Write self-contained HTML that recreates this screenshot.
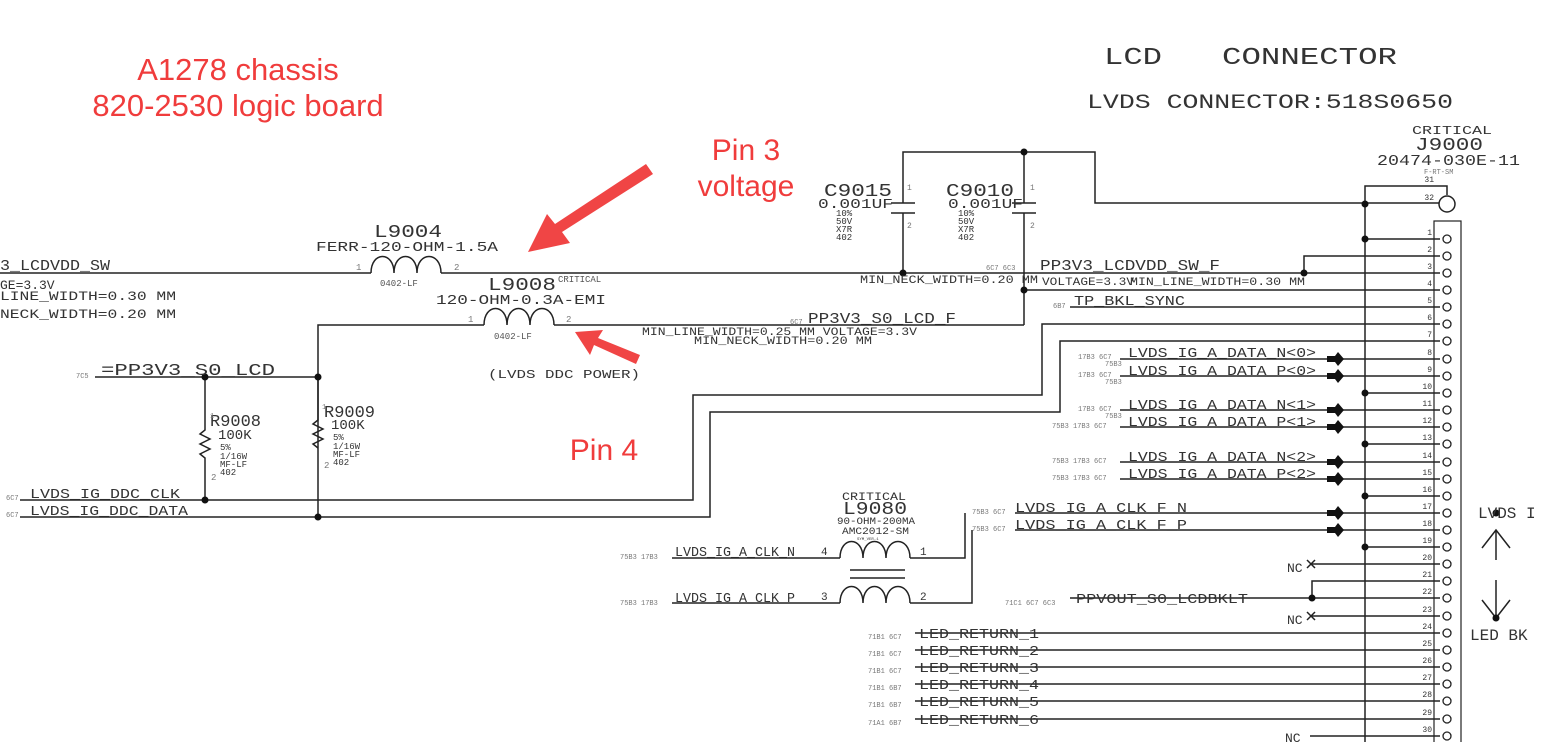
<!DOCTYPE html>
<html><head><meta charset="utf-8"><style>
html,body{margin:0;padding:0;background:#fff;width:1545px;height:742px;overflow:hidden}
svg text{font-family:"Liberation Mono",monospace;fill:#333}
.s{font-size:7px;fill:#777}
.n{font-size:15px}
.r{font-family:"Liberation Sans",sans-serif;fill:#f03c3c}
</style></head><body>
<svg width="1545" height="742" viewBox="0 0 1545 742" xmlns="http://www.w3.org/2000/svg">
<g stroke="#222" stroke-width="1.5" fill="none">
<path d="M0 273H371M441 273H1440"/>
<path d="M371 273c0-22 23-22 23 0c0-22 23-22 23 0c0-22 24-22 24 0"/>
<path d="M903 273V213M903 203V152H1095V203H1440M1024 152V203M1024 213V325"/>
<path d="M891 203H915M891 213H915M1012 203H1036M1012 213H1036"/>
<path d="M1024 290H1440M1304 273V256H1440M1070 307H1440"/>
<path d="M318 517V325H484M554 325H1024"/>
<path d="M484 325c0-22 23-22 23 0c0-22 23-22 23 0c0-22 24-22 24 0"/>
<path d="M95 377H318"/>
<path d="M205 377V430l-5 4 10 5-10 5 10 5-10 5 5 4V500"/>
<path d="M318 377V420l-5 4 10 5-10 5 10 5-10 5 5 4"/>
<path d="M20 500H693V395H1042V324H1440M20 517H710V412H1060V341H1440"/>
<path d="M1120 359H1440M1120 376H1440M1120 410H1440M1120 427H1440M1120 462H1440M1120 479H1440"/>
<path d="M1015 513H1440M1015 530H1440M965 513V558H910M972 530V603H910"/>
<path d="M672 558H840M672 603H840"/>
<path d="M840 558c0-22 23-22 23 0c0-22 23-22 23 0c0-22 24-22 24 0M840 603c0-22 23-22 23 0c0-22 23-22 23 0c0-22 24-22 24 0"/>
<path d="M850 570H905M850 578H905"/>
<path d="M1365 742V186H1447V195"/>
<path d="M1365 239H1440M1365 393H1440M1365 444H1440M1365 496H1440M1365 547H1440"/>
<path d="M1312 564H1440M1312 616H1440M1312 598V581H1440M1070 598H1440"/>
<path d="M915 633H1440M915 650H1440M915 667H1440M915 684H1440M915 701H1440M915 719H1440M1310 736H1440"/>
<rect x="1434" y="221" width="27" height="530" stroke-width="1.2"/>
<circle cx="1447" cy="204" r="8" fill="#fff"/>
<path d="M1496 560V530M1482 548L1496 530L1510 548M1496 580V618M1482 600L1496 618L1510 600"/>
<path d="M1307 560l8 8M1315 560l-8 8M1307 612l8 8M1315 612l-8 8"/>
</g>
<g fill="#fff" stroke="#222" stroke-width="1.3">
<circle cx="1447" cy="239" r="4"/><circle cx="1447" cy="256" r="4"/><circle cx="1447" cy="273" r="4"/><circle cx="1447" cy="290" r="4"/><circle cx="1447" cy="307" r="4"/><circle cx="1447" cy="324" r="4"/><circle cx="1447" cy="341" r="4"/><circle cx="1447" cy="359" r="4"/><circle cx="1447" cy="376" r="4"/><circle cx="1447" cy="393" r="4"/><circle cx="1447" cy="410" r="4"/><circle cx="1447" cy="427" r="4"/><circle cx="1447" cy="444" r="4"/><circle cx="1447" cy="462" r="4"/><circle cx="1447" cy="479" r="4"/><circle cx="1447" cy="496" r="4"/><circle cx="1447" cy="513" r="4"/><circle cx="1447" cy="530" r="4"/><circle cx="1447" cy="547" r="4"/><circle cx="1447" cy="564" r="4"/><circle cx="1447" cy="581" r="4"/><circle cx="1447" cy="598" r="4"/><circle cx="1447" cy="616" r="4"/><circle cx="1447" cy="633" r="4"/><circle cx="1447" cy="650" r="4"/><circle cx="1447" cy="667" r="4"/><circle cx="1447" cy="684" r="4"/><circle cx="1447" cy="701" r="4"/><circle cx="1447" cy="719" r="4"/><circle cx="1447" cy="736" r="4"/>
</g>
<g fill="#111">
<circle cx="1024" cy="152" r="3.5"/><circle cx="903" cy="273" r="3.5"/><circle cx="1024" cy="290" r="3.5"/><circle cx="1304" cy="273" r="3.5"/>
<circle cx="1365" cy="204" r="3.5"/><circle cx="1365" cy="239" r="3.5"/><circle cx="1365" cy="393" r="3.5"/><circle cx="1365" cy="444" r="3.5"/><circle cx="1365" cy="496" r="3.5"/><circle cx="1365" cy="547" r="3.5"/>
<circle cx="1312" cy="598" r="3.5"/><circle cx="1496" cy="618" r="3.5"/><circle cx="1496" cy="513" r="3.5"/>
<circle cx="318" cy="377" r="3.5"/><circle cx="205" cy="377" r="3.5"/><circle cx="205" cy="500" r="3.5"/><circle cx="318" cy="517" r="3.5"/>
<path d="M1327 356h8l3-4 6 7-6 7-3-4h-8z"/><path d="M1327 373h8l3-4 6 7-6 7-3-4h-8z"/>
<path d="M1327 407h8l3-4 6 7-6 7-3-4h-8z"/><path d="M1327 424h8l3-4 6 7-6 7-3-4h-8z"/>
<path d="M1327 459h8l3-4 6 7-6 7-3-4h-8z"/><path d="M1327 476h8l3-4 6 7-6 7-3-4h-8z"/>
<path d="M1327 510h8l3-4 6 7-6 7-3-4h-8z"/><path d="M1327 527h8l3-4 6 7-6 7-3-4h-8z"/>
</g>
<g class="s" text-anchor="end" style="font-size:8px">
<text x="1432" y="235">1</text><text x="1432" y="252">2</text><text x="1432" y="269">3</text><text x="1432" y="286">4</text><text x="1432" y="303">5</text><text x="1432" y="320">6</text><text x="1432" y="337">7</text><text x="1432" y="355">8</text><text x="1432" y="372">9</text><text x="1432" y="389">10</text><text x="1432" y="406">11</text><text x="1432" y="423">12</text><text x="1432" y="440">13</text><text x="1432" y="458">14</text><text x="1432" y="475">15</text><text x="1432" y="492">16</text><text x="1432" y="509">17</text><text x="1432" y="526">18</text><text x="1432" y="543">19</text><text x="1432" y="560">20</text><text x="1432" y="577">21</text><text x="1432" y="594">22</text><text x="1432" y="612">23</text><text x="1432" y="629">24</text><text x="1432" y="646">25</text><text x="1432" y="663">26</text><text x="1432" y="680">27</text><text x="1432" y="697">28</text><text x="1432" y="715">29</text><text x="1432" y="732">30</text>
<text x="1434" y="182">31</text><text x="1434" y="200">32</text>
</g>
<text x="1104" y="64" style="font-size:24px" textLength="58" lengthAdjust="spacingAndGlyphs">LCD</text>
<text x="1222" y="64" style="font-size:24px" textLength="175" lengthAdjust="spacingAndGlyphs">CONNECTOR</text>
<text x="1087" y="108" style="font-size:20px" textLength="366" lengthAdjust="spacingAndGlyphs">LVDS CONNECTOR:518S0650</text>
<text x="1412" y="134" style="font-size:12px" textLength="80" lengthAdjust="spacingAndGlyphs">CRITICAL</text>
<text x="1415" y="150" style="font-size:18px" textLength="68" lengthAdjust="spacingAndGlyphs">J9000</text>
<text x="1377" y="165" style="font-size:15px" textLength="143" lengthAdjust="spacingAndGlyphs">20474-030E-11</text>
<text x="1424" y="174" class="s">F-RT-SM</text>
<text x="0" y="270" class="n" textLength="110" lengthAdjust="spacingAndGlyphs">3_LCDVDD_SW</text>
<text x="0" y="289" style="font-size:13px">GE=3.3V</text>
<text x="0" y="300" style="font-size:13px" textLength="176" lengthAdjust="spacingAndGlyphs">LINE_WIDTH=0.30 MM</text>
<text x="0" y="318" style="font-size:13px" textLength="176" lengthAdjust="spacingAndGlyphs">NECK_WIDTH=0.20 MM</text>
<text x="374" y="237" style="font-size:18px" textLength="68" lengthAdjust="spacingAndGlyphs">L9004</text>
<text x="316" y="251" style="font-size:14px" textLength="182" lengthAdjust="spacingAndGlyphs">FERR-120-OHM-1.5A</text>
<text x="356" y="270" class="s" style="font-size:9px">1</text><text x="454" y="270" class="s" style="font-size:9px">2</text>
<text x="380" y="286" style="font-size:9px;fill:#555">0402-LF</text>
<text x="488" y="290" style="font-size:18px" textLength="68" lengthAdjust="spacingAndGlyphs">L9008</text>
<text x="558" y="282" style="font-size:9px;fill:#555">CRITICAL</text>
<text x="436" y="304" style="font-size:14px" textLength="170" lengthAdjust="spacingAndGlyphs">120-OHM-0.3A-EMI</text>
<text x="468" y="322" class="s" style="font-size:9px">1</text><text x="566" y="322" class="s" style="font-size:9px">2</text>
<text x="494" y="339" style="font-size:9px;fill:#555">0402-LF</text>
<text x="488" y="378" style="font-size:12px" textLength="152" lengthAdjust="spacingAndGlyphs">(LVDS DDC POWER)</text>
<text x="76" y="378" class="s">7C5</text>
<text x="101" y="375" style="font-size:17px" textLength="174" lengthAdjust="spacingAndGlyphs">=PP3V3_S0_LCD</text>
<text x="210" y="426" style="font-size:17px">R9008</text><text x="210" y="418" class="s">1</text>
<text x="218" y="439" style="font-size:14px">100K</text>
<text x="220" y="450" style="font-size:9px">5%</text><text x="220" y="459" style="font-size:9px">1/16W</text><text x="220" y="467" style="font-size:9px">MF-LF</text><text x="220" y="475" style="font-size:9px">402</text>
<text x="211" y="480" class="s" style="font-size:9px">2</text>
<text x="324" y="417" style="font-size:17px">R9009</text><text x="322" y="409" class="s">1</text>
<text x="331" y="429" style="font-size:14px">100K</text>
<text x="333" y="440" style="font-size:9px">5%</text><text x="333" y="449" style="font-size:9px">1/16W</text><text x="333" y="457" style="font-size:9px">MF-LF</text><text x="333" y="465" style="font-size:9px">402</text>
<text x="324" y="468" class="s" style="font-size:9px">2</text>
<text x="6" y="500" class="s">6C7</text><text x="30" y="498" style="font-size:14px" textLength="150" lengthAdjust="spacingAndGlyphs">LVDS_IG_DDC_CLK</text>
<text x="6" y="517" class="s">6C7</text><text x="30" y="515" style="font-size:14px" textLength="158" lengthAdjust="spacingAndGlyphs">LVDS_IG_DDC_DATA</text>
<text x="824" y="196" style="font-size:18px" textLength="68" lengthAdjust="spacingAndGlyphs">C9015</text>
<text x="818" y="208" style="font-size:14px" textLength="75" lengthAdjust="spacingAndGlyphs">0.001UF</text>
<text x="836" y="216" style="font-size:9px">10%</text><text x="836" y="224" style="font-size:9px">50V</text><text x="836" y="232" style="font-size:9px">X7R</text><text x="836" y="240" style="font-size:9px">402</text>
<text x="907" y="190" class="s" style="font-size:8px">1</text><text x="907" y="228" class="s" style="font-size:8px">2</text>
<text x="946" y="196" style="font-size:18px" textLength="68" lengthAdjust="spacingAndGlyphs">C9010</text>
<text x="948" y="208" style="font-size:14px" textLength="75" lengthAdjust="spacingAndGlyphs">0.001UF</text>
<text x="958" y="216" style="font-size:9px">10%</text><text x="958" y="224" style="font-size:9px">50V</text><text x="958" y="232" style="font-size:9px">X7R</text><text x="958" y="240" style="font-size:9px">402</text>
<text x="1030" y="190" class="s" style="font-size:8px">1</text><text x="1030" y="228" class="s" style="font-size:8px">2</text>
<text x="986" y="270" class="s">6C7 6C3</text>
<text x="1040" y="270" class="n" textLength="180" lengthAdjust="spacingAndGlyphs">PP3V3_LCDVDD_SW_F</text>
<text x="860" y="283" style="font-size:11px" textLength="178" lengthAdjust="spacingAndGlyphs">MIN_NECK_WIDTH=0.20 MM</text>
<text x="1042" y="285" style="font-size:11px" textLength="92" lengthAdjust="spacingAndGlyphs">VOLTAGE=3.3V</text>
<text x="1130" y="285" style="font-size:11px" textLength="175" lengthAdjust="spacingAndGlyphs">MIN_LINE_WIDTH=0.30 MM</text>
<text x="1053" y="308" class="s">6B7</text><text x="1074" y="305" style="font-size:14px" textLength="111" lengthAdjust="spacingAndGlyphs">TP_BKL_SYNC</text>
<text x="790" y="324" class="s">6C7</text><text x="808" y="323" class="n" textLength="148" lengthAdjust="spacingAndGlyphs">PP3V3_S0_LCD_F</text>
<text x="642" y="335" style="font-size:11px" textLength="275" lengthAdjust="spacingAndGlyphs">MIN_LINE_WIDTH=0.25 MM VOLTAGE=3.3V</text>
<text x="694" y="344" style="font-size:11px" textLength="178" lengthAdjust="spacingAndGlyphs">MIN_NECK_WIDTH=0.20 MM</text>
<text x="1078" y="359" class="s">17B3 6C7</text><text x="1105" y="366" class="s">75B3</text><text x="1128" y="357" style="font-size:14px" textLength="188" lengthAdjust="spacingAndGlyphs">LVDS_IG_A_DATA_N&lt;0&gt;</text>
<text x="1078" y="377" class="s">17B3 6C7</text><text x="1105" y="384" class="s">75B3</text><text x="1128" y="375" style="font-size:14px" textLength="188" lengthAdjust="spacingAndGlyphs">LVDS_IG_A_DATA_P&lt;0&gt;</text>
<text x="1078" y="411" class="s">17B3 6C7</text><text x="1105" y="418" class="s">75B3</text><text x="1128" y="409" style="font-size:14px" textLength="188" lengthAdjust="spacingAndGlyphs">LVDS_IG_A_DATA_N&lt;1&gt;</text>
<text x="1052" y="428" class="s">75B3 17B3 6C7</text><text x="1128" y="426" style="font-size:14px" textLength="188" lengthAdjust="spacingAndGlyphs">LVDS_IG_A_DATA_P&lt;1&gt;</text>
<text x="1052" y="463" class="s">75B3 17B3 6C7</text><text x="1128" y="461" style="font-size:14px" textLength="188" lengthAdjust="spacingAndGlyphs">LVDS_IG_A_DATA_N&lt;2&gt;</text>
<text x="1052" y="480" class="s">75B3 17B3 6C7</text><text x="1128" y="478" style="font-size:14px" textLength="188" lengthAdjust="spacingAndGlyphs">LVDS_IG_A_DATA_P&lt;2&gt;</text>
<text x="972" y="514" class="s">75B3 6C7</text><text x="1015" y="512" style="font-size:14px" textLength="172" lengthAdjust="spacingAndGlyphs">LVDS_IG_A_CLK_F_N</text>
<text x="972" y="531" class="s">75B3 6C7</text><text x="1015" y="529" style="font-size:14px" textLength="172" lengthAdjust="spacingAndGlyphs">LVDS_IG_A_CLK_F_P</text>
<text x="842" y="500" style="font-size:11px" textLength="64" lengthAdjust="spacingAndGlyphs">CRITICAL</text>
<text x="843" y="514" style="font-size:18px" textLength="64" lengthAdjust="spacingAndGlyphs">L9080</text>
<text x="837" y="524" style="font-size:10px" textLength="78" lengthAdjust="spacingAndGlyphs">90-OHM-200MA</text>
<text x="842" y="534" style="font-size:10px" textLength="67" lengthAdjust="spacingAndGlyphs">AMC2012-SM</text>
<text x="857" y="540" style="font-size:4px">SYM_VER-1</text>
<text x="620" y="559" class="s">75B3 17B3</text><text x="675" y="556" style="font-size:14px" textLength="120" lengthAdjust="spacingAndGlyphs">LVDS_IG_A_CLK_N</text>
<text x="620" y="605" class="s">75B3 17B3</text><text x="675" y="602" style="font-size:14px" textLength="120" lengthAdjust="spacingAndGlyphs">LVDS_IG_A_CLK_P</text>
<text x="821" y="555" style="font-size:11px">4</text><text x="821" y="600" style="font-size:11px">3</text>
<text x="920" y="555" style="font-size:11px">1</text><text x="920" y="600" style="font-size:11px">2</text>
<text x="1287" y="572" style="font-size:13px">NC</text><text x="1287" y="624" style="font-size:13px">NC</text><text x="1285" y="742" style="font-size:13px">NC</text>
<text x="1005" y="605" class="s">71C1 6C7 6C3</text><text x="1076" y="603" style="font-size:14px" textLength="172" lengthAdjust="spacingAndGlyphs">PPVOUT_S0_LCDBKLT</text>
<text x="868" y="639" class="s">71B1 6C7</text><text x="919" y="638" style="font-size:14px" textLength="120" lengthAdjust="spacingAndGlyphs">LED_RETURN_1</text>
<text x="868" y="656" class="s">71B1 6C7</text><text x="919" y="655" style="font-size:14px" textLength="120" lengthAdjust="spacingAndGlyphs">LED_RETURN_2</text>
<text x="868" y="673" class="s">71B1 6C7</text><text x="919" y="672" style="font-size:14px" textLength="120" lengthAdjust="spacingAndGlyphs">LED_RETURN_3</text>
<text x="868" y="690" class="s">71B1 6B7</text><text x="919" y="689" style="font-size:14px" textLength="120" lengthAdjust="spacingAndGlyphs">LED_RETURN_4</text>
<text x="868" y="707" class="s">71B1 6B7</text><text x="919" y="706" style="font-size:14px" textLength="120" lengthAdjust="spacingAndGlyphs">LED_RETURN_5</text>
<text x="868" y="725" class="s">71A1 6B7</text><text x="919" y="724" style="font-size:14px" textLength="120" lengthAdjust="spacingAndGlyphs">LED_RETURN_6</text>
<text x="1478" y="518" style="font-size:16px">LVDS I</text>
<text x="1470" y="640" style="font-size:16px">LED BK</text>
<text x="238" y="80" class="r" text-anchor="middle" style="font-size:31px">A1278 chassis</text>
<text x="238" y="116" class="r" text-anchor="middle" style="font-size:31px">820-2530 logic board</text>
<text x="746" y="160" class="r" text-anchor="middle" style="font-size:30px">Pin 3</text>
<text x="746" y="196" class="r" text-anchor="middle" style="font-size:30px">voltage</text>
<text x="604" y="460" class="r" text-anchor="middle" style="font-size:30px">Pin 4</text>
<g fill="#f04545">
<path d="M646 164L653 174L562 232L570 243L528 252L547 214L555 224Z"/>
<path d="M640 355L636 364L594 345L590 355L575 332L603 330L598 338Z"/>
</g>
</svg>
</body></html>
